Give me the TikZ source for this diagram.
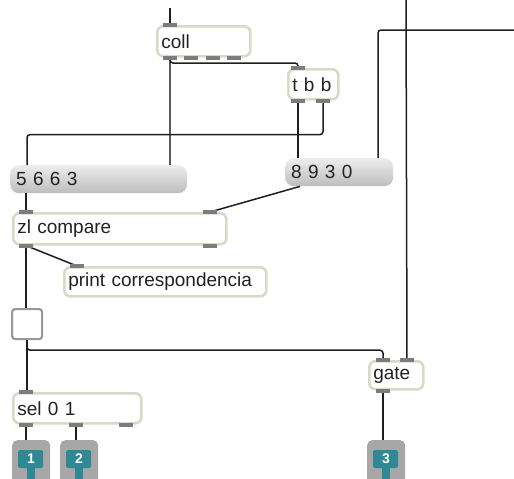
\documentclass[tikz,border=0pt]{standalone}
\usepackage{fontspec}
\setmainfont{Liberation Sans}
\usetikzlibrary{calc}
\definecolor{cord}{HTML}{1E1E1E}
\definecolor{boxedge}{HTML}{D8D9C6}
\definecolor{tabgray}{HTML}{7C7C7C}
\definecolor{msgtop}{HTML}{EDEDED}
\definecolor{msgbot}{HTML}{BDBDBD}
\definecolor{outgray}{HTML}{A7A7A7}
\definecolor{teal}{HTML}{2E8994}
\definecolor{ink}{HTML}{222222}
\newcommand\porttab[1]{\fill[tabgray] ($(#1)+(-7,-2)$) rectangle ($(#1)+(7,2)$);}
\tikzset{
  objbox/.style={draw=boxedge, line width=2.6pt, fill=white, rounded corners=6pt,
    anchor=north west, inner xsep=4pt, inner ysep=0pt, align=left,
    text=ink, font=\fontsize{19}{21}\selectfont},
  msgbox/.style={rounded corners=9pt, top color=msgtop, bottom color=msgbot,
    anchor=north west, inner xsep=6pt, inner ysep=0pt, align=left,
    text=ink, font=\fontsize{19}{21}\selectfont},
  outbox/.style={fill=outgray, rounded corners=5pt, anchor=north west,
    minimum width=38pt, minimum height=44pt, inner sep=0pt},
  numlabel/.style={text=white, font=\fontsize{14}{14}\selectfont\bfseries},
  patch/.style={draw=cord, line width=1.5pt, rounded corners=3pt},
}
\begin{document}
\begin{tikzpicture}[x=1pt,y=-1pt]
\useasboundingbox (0,0) rectangle (514,479);

% ---- objects ----
\node[objbox, text width=85pt, minimum height=30pt] (coll) at (156,25) {coll};
\node[objbox, text width=42pt, minimum height=30pt] (tbb) at (287,68) {t b b};
\node[msgbox, text width=165pt, minimum height=28pt] (mA) at (10,165) {5 6 6 3};
\node[msgbox, text width=96pt, minimum height=28pt] (mB) at (285,158) {8 9 3 0};
\node[objbox, text width=205pt, minimum height=31pt] (zl) at (12,212) {zl compare};
\node[objbox, text width=194pt, minimum height=29pt] (prt) at (63,266) {print correspondencia};
\node[draw=gray!80, line width=2.2pt, fill=white, rounded corners=3pt, anchor=north west,
      minimum width=30pt, minimum height=30pt, inner sep=0pt] (tog) at (11,308) {};
\node[objbox, text width=120pt, minimum height=30pt] (sel) at (12,392) {sel 0 1};
\node[objbox, text width=46pt, minimum height=28pt] (gate) at (368,360) {gate};

% outlet boxes
\foreach \n/\x in {1/12,2/60,3/367}{
  \node[outbox] (out\n) at (\x,440) {};
  \fill[teal, rounded corners=2pt] ($(out\n.north west)+(6,10)$) rectangle ($(out\n.north west)+(31,28)$);
  \fill[teal] ($(out\n.north west)+(15,26)$) rectangle ($(out\n.north west)+(23,44)$);
  \node[numlabel] at ($(out\n.north west)+(19,19)$) {\n};
}

% ---- inlet / outlet points ----
\coordinate (coll-i) at ($(coll.north west)+(14,0)$);
\coordinate (coll-o1) at ($(coll.south west)+(14,0)$);
\coordinate (coll-o2) at ($(coll.south west)+(35,0)$);
\coordinate (coll-o3) at ($(coll.south west)+(57,0)$);
\coordinate (coll-o4) at ($(coll.south west)+(78,0)$);
\coordinate (tbb-i) at ($(tbb.north west)+(11,0)$);
\coordinate (tbb-o1) at ($(tbb.south west)+(11,0)$);
\coordinate (tbb-o2) at ($(tbb.south west)+(36,0)$);
\coordinate (zl-i1) at ($(zl.north west)+(14,0)$);
\coordinate (zl-i2) at ($(zl.north west)+(198,0)$);
\coordinate (zl-o1) at ($(zl.south west)+(14,0)$);
\coordinate (zl-o2) at ($(zl.south west)+(198,0)$);
\coordinate (prt-i) at ($(prt.north west)+(14,0)$);
\coordinate (sel-i) at ($(sel.north west)+(14,0)$);
\coordinate (sel-o1) at ($(sel.south west)+(14,0)$);
\coordinate (sel-o2) at ($(sel.south west)+(64,0)$);
\coordinate (sel-o3) at ($(sel.south west)+(114,0)$);
\coordinate (gate-i1) at ($(gate.north west)+(15,0)$);
\coordinate (gate-i2) at ($(gate.north west)+(39,0)$);
\coordinate (gate-o1) at ($(gate.south west)+(15,0)$);
\coordinate (topin) at (170,8);
\coordinate (topright) at (406,0);
\coordinate (rightedge) at (514,30);

% ---- patch cords ----
\draw[patch] (topin) -- (coll-i);
\draw[patch, draw=gray!70!black] (coll-o1) -- (coll-o1 |- mA.north);
\draw[patch] (coll-o1) |- ($(tbb-i)+(0,-5)$) -- (tbb-i);
\draw[patch] (tbb-o1) -- (tbb-o1 |- mB.north);
\draw[patch] (tbb-o2) -- ++(0,34) -| ($(mA.north west)+(17,0)$);
\draw[patch] (rightedge) -| ($(mB.north west)+(93,0)$);
\draw[patch] (topright) -- (gate-i2);
\draw[patch] ($(mA.south west)+(16,0)$) -- (zl-i1);
\draw[patch] ($(mB.south west)+(15,0)$) -- (zl-i2);
\draw[patch] (zl-o1) -- (prt-i);
\draw[patch] (zl-o1) -- (zl-o1 |- tog.north);
\draw[patch] (tog.south) -- (tog.south |- sel-i);
\draw[patch] (tog.south) -- ++(0,10) -| (gate-i1);
\draw[patch] (sel-o1) -- (sel-o1 |- out1.north);
\draw[patch] (sel-o2) -- (sel-o2 |- out2.north);
\draw[patch] (gate-o1) -- (gate-o1 |- out3.north);

% ---- port tabs ----
\porttab{coll-i}\porttab{coll-o1}\porttab{coll-o2}\porttab{coll-o3}\porttab{coll-o4}
\porttab{tbb-i}\porttab{tbb-o1}\porttab{tbb-o2}
\porttab{zl-i1}\porttab{zl-i2}\porttab{zl-o1}\porttab{zl-o2}
\porttab{prt-i}
\porttab{sel-i}\porttab{sel-o1}\porttab{sel-o2}\porttab{sel-o3}
\porttab{gate-i1}\porttab{gate-i2}\porttab{gate-o1}
\end{tikzpicture}
\end{document}
